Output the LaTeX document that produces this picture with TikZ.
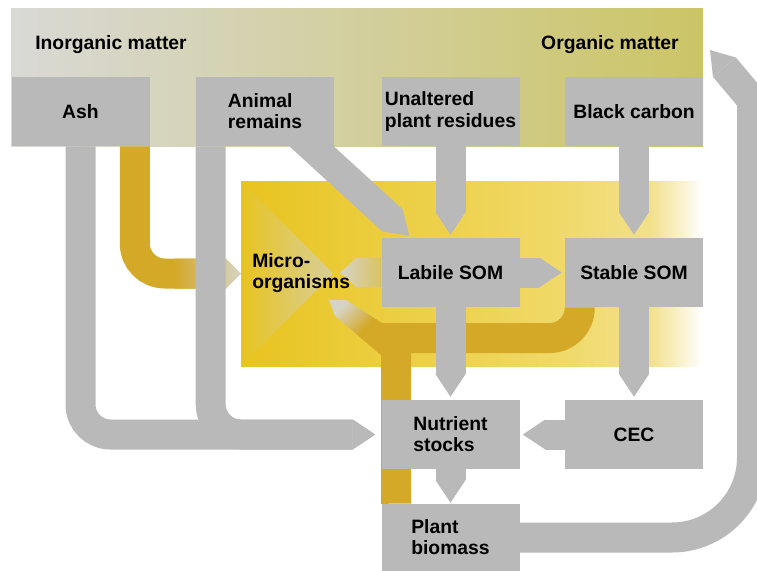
\documentclass[tikz,border=0pt]{standalone}
\usepackage{fontspec}
\setmainfont{Liberation Sans}
\usepackage{xcolor}
\usepackage{tikz}
\usetikzlibrary{arrows.meta,backgrounds,calc}
\definecolor{SoilGray}{HTML}{B9B9B9}
\definecolor{SoilGold}{HTML}{D4A928}
\definecolor{SoilTip}{HTML}{D6D4C6}
\definecolor{SoilHaze}{HTML}{D9C360}
\definecolor{SoilVeil}{HTML}{D8CE9A}
\definecolor{SoilStone}{HTML}{D9D9D6}
\definecolor{SoilOlive}{HTML}{CCC566}
\definecolor{SoilSun}{HTML}{E8C41F}
\definecolor{SoilMid}{HTML}{F0D968}
\definecolor{SoilPale}{HTML}{F2E08A}
\pgfdeclarelayer{bands}
\pgfsetlayers{bands,background,main}
\pgfdeclarehorizontalshading{sunband}{100bp}{color(0bp)=(SoilSun); color(25bp)=(SoilSun); color(59.5bp)=(SoilMid); color(69.3bp)=(SoilPale); color(75bp)=(white); color(100bp)=(white)}
\tikzset{txt/.style={font=\bfseries\fontsize{14.5pt}{15.8pt}\selectfont},
  box/.style={txt,fill=SoilGray,minimum width=103.5pt,minimum height=51.75pt,inner sep=0pt,align=left},
  flow/.style={draw=SoilGray,line width=22.5pt,-{Triangle[length=0pt .75,width=0pt 1,line width=0pt]},shorten >=2.25pt},
  pipe/.style={draw=SoilGold,line width=22.5pt}}

\begin{document}
\begin{tikzpicture}[x=.75pt,y=-.75pt]
\useasboundingbox (0,0) rectangle (757,571);
\foreach \nm/\x/\y/\lab in {ash/80.5/111.5/Ash,animal/265/111.5/{Animal\\remains},residues/450.5/111.5/{Unaltered\\plant residues},black/634/111.5/Black carbon,labile/450.5/272.5/Labile SOM,stable/634/272.5/Stable SOM,nutrient/450.5/434.5/{Nutrient\\stocks},cec/634/434.5/CEC}
  {\node[box] (\nm) at (\x,\y) {\lab};}
\node[box,minimum height=50.25pt] (plant) at (450.5,537.5) {Plant\\biomass};
\node[txt,anchor=base west,inner sep=0pt] (inorganic) at (35,49) {Inorganic matter};
\node[txt,anchor=base east,inner sep=0pt] (organic) at (679,49) {Organic matter};
\node[txt,anchor=west,inner sep=0pt,align=left] (micro) at (252,273) {Micro-\\organisms};
% coloured fields
\begin{pgfonlayer}{bands}
\node[left color=SoilStone,right color=SoilOlive,minimum width=519pt,minimum height=103.5pt,inner sep=0pt,outer sep=0pt] (matter) at (357,77) {};
\node[shade,shading=sunband,minimum width=346.5pt,minimum height=138.75pt,inner sep=0pt,outer sep=0pt] (soil) at (472,273.5) {};
\shade[left color=SoilSun,right color=SoilVeil] (soil.north west) -- ($(soil.west)+(92,0)$) -- (soil.south west) -- cycle;
\end{pgfonlayer}
\coordinate (omtip) at ($(matter.north east)+(7,42)$);
\coordinate (feed) at (396,338);
\begin{pgfonlayer}{background}
% gold: feeding the micro-organisms
\draw[pipe,rounded corners=22.5pt,shorten >=11.25pt] ($(ash.south east)+(-15,0)$) |- (soil.west);
\shade[left color=SoilGold,right color=SoilTip] ($(soil.west)+(-66,-15)$) -- ++(51,0) -- (soil.west) -- ($(soil.west)+(-15,15)$) -- ++(-51,0) -- cycle;
\draw[pipe,rounded corners=22.5pt] ($(stable.south west)+(15,0)$) |- (feed);
\draw[pipe] ($(plant.north west)+(15,0)$) -- (feed);
\shade[top color=SoilTip,bottom color=SoilGold,middle color=SoilGold,shading angle=45] ($(feed)+(-67,-38)$) -- ++(17,0) -- ($(feed)+(-14,-15)$) -- ++(18,0) -- ++(0,33) -- ++(-18,0) -- ($(feed)+(-61,-22)$) -- cycle;
\shade[left color=SoilTip,right color=SoilHaze] ($(labile.west)+(0,-14.5)$) -- ++(-25,0) -- ($(labile.west)+(-41,0)$) -- ($(labile.west)+(-25,14.5)$) -- ++(25,0) -- cycle;
% gray flows
\draw[flow,rounded corners=22.5pt,shorten >=4.5pt] (ash.south) |- (nutrient.west);
\draw[flow,rounded corners=22.5pt,shorten >=4.5pt] ($(animal.south west)+(15,0)$) |- (nutrient.west);
\draw[flow,shorten >=0pt] ($(animal.south east)+(-38,-14)$) -- ($(labile.north west)+(28,-2)$);
\draw[flow] (residues.south) -- (labile.north);
\draw[flow] (black.south) -- (stable.north);
\draw[flow] (labile.east) -- (stable.west);
\draw[flow] (labile.south) -- (nutrient.north);
\draw[flow] (stable.south) -- (cec.north);
\draw[flow] (cec.west) -- (nutrient.east);
\draw[flow,shorten >=.75pt] (nutrient.south) -- (plant.north);
\draw[flow,shorten >=0pt] (plant.east) -- (672,537.5) arc[start angle=90,end angle=0,radius=80] -- (752,100) -- (omtip);
\end{pgfonlayer}
\end{tikzpicture}
\end{document}
